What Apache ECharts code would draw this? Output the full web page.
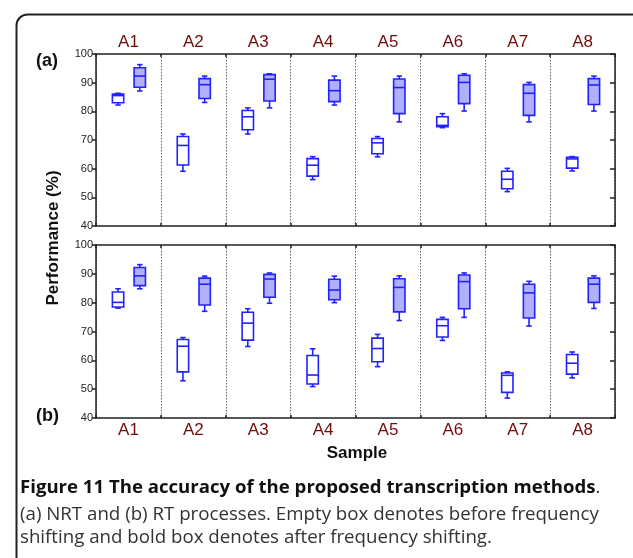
<!DOCTYPE html>
<html>
<head>
<meta charset="utf-8">
<script src="https://cdn.jsdelivr.net/npm/echarts@6/dist/echarts.min.js"></script>
<style>
  html, body { margin: 0; padding: 0; background: #fff; }
  #chart { width: 633px; height: 558px; }
</style>
</head>
<body>
<div id="chart"></div>
<script>
// Sample groups
const categories = ['A1', 'A2', 'A3', 'A4', 'A5', 'A6', 'A7', 'A8'];

// Each entry: [min, Q1, median, Q3, max] in percent
// (a) NRT process
const nrtBefore = [
  [82.2, 83.0, 85.5, 86.0, 86.3],
  [59.1, 61.3, 68.1, 71.2, 72.1],
  [72.1, 73.6, 78.1, 80.3, 81.2],
  [56.2, 57.4, 61.2, 63.5, 64.2],
  [64.1, 65.2, 69.0, 70.5, 71.2],
  [74.3, 74.6, 75.1, 78.1, 79.2],
  [52.0, 53.0, 56.3, 59.1, 60.1],
  [59.2, 60.2, 63.4, 64.0, 64.2]
];
const nrtAfter = [
  [87.1, 88.4, 92.3, 95.2, 96.3],
  [83.1, 84.5, 89.3, 91.4, 92.3],
  [81.2, 83.6, 91.2, 92.8, 93.1],
  [82.2, 83.4, 87.2, 90.9, 92.3],
  [76.3, 79.2, 88.3, 91.3, 92.3],
  [80.1, 82.7, 90.1, 92.6, 93.1],
  [76.3, 78.6, 86.3, 89.3, 90.1],
  [80.1, 82.4, 89.2, 91.4, 92.3]
];
// (b) RT process
const rtBefore = [
  [78.1, 78.5, 80.1, 83.7, 84.8],
  [52.9, 56.0, 64.9, 67.2, 67.9],
  [64.8, 67.0, 72.9, 76.7, 77.9],
  [50.9, 51.8, 54.9, 61.7, 64.0],
  [57.8, 59.5, 64.1, 67.7, 69.0],
  [66.9, 68.1, 72.0, 74.2, 74.9],
  [46.9, 48.9, 54.8, 55.6, 56.0],
  [53.9, 55.2, 59.0, 62.0, 62.9]
];
const rtAfter = [
  [84.8, 85.9, 89.3, 92.2, 93.2],
  [77.0, 79.2, 86.4, 88.5, 89.2],
  [79.8, 81.9, 88.2, 89.8, 90.3],
  [80.0, 81.0, 84.4, 88.1, 89.2],
  [73.8, 76.8, 85.3, 88.3, 89.3],
  [74.9, 77.9, 87.3, 89.6, 90.3],
  [71.9, 74.7, 83.4, 86.4, 87.4],
  [78.0, 80.1, 86.4, 88.5, 89.3]
];

const yTicks = { min: 40, max: 100, interval: 10 };

const BLUE = '#2222ff';
const FILL = '#b0b0ff';
const AXIS = '#222';
const LABEL_RED = '#700c0c';

// Turn [min,q1,med,q3,max] rows into [categoryIndex, ...stats]
function rows(stats) {
  return stats.map((s, i) => [i].concat(s));
}

// Box-and-whisker glyph placed at a fraction of the category band
function makeBox(pos, fill) {
  return function (params, api) {
    const i = api.value(0);
    const band = api.size([1, 0])[0];
    const base = api.coord([i, api.value(1)]);
    const cx = base[0] + (pos - 0.5) * band;
    const y = v => api.coord([i, v])[1];
    const yMin = y(api.value(1)), yQ1 = y(api.value(2)), yMed = y(api.value(3));
    const yQ3 = y(api.value(4)), yMax = y(api.value(5));
    const w = band * 0.175;
    const cap = band * 0.085;
    const line = { stroke: BLUE, lineWidth: 1.6 };
    return {
      type: 'group',
      children: [
        { type: 'line', shape: { x1: cx, y1: yMax, x2: cx, y2: yQ3 }, style: line },
        { type: 'line', shape: { x1: cx, y1: yQ1, x2: cx, y2: yMin }, style: line },
        { type: 'line', shape: { x1: cx - cap / 2, y1: yMax, x2: cx + cap / 2, y2: yMax }, style: line },
        { type: 'line', shape: { x1: cx - cap / 2, y1: yMin, x2: cx + cap / 2, y2: yMin }, style: line },
        { type: 'rect', shape: { x: cx - w / 2, y: yQ3, width: w, height: yQ1 - yQ3 },
          style: { fill: fill, stroke: BLUE, lineWidth: 1.6 } },
        { type: 'line', shape: { x1: cx - w / 2, y1: yMed, x2: cx + w / 2, y2: yMed }, style: line }
      ]
    };
  };
}

const gridLeft = 96, gridWidth = 519;
const grids = [
  { left: gridLeft, top: 54, width: gridWidth, height: 172 },
  { left: gridLeft, top: 245, width: gridWidth, height: 173 }
];

function xAxisPair(gridIndex, labelPos) {
  const common = {
    type: 'category', data: categories, gridIndex: gridIndex, boundaryGap: true,
    axisLine: { show: true, lineStyle: { color: AXIS, width: 1.5 } },
    axisTick: { show: true, inside: true, length: 3, lineStyle: { color: AXIS, width: 1.5 } }
  };
  return [
    Object.assign({}, common, {
      position: 'top',
      axisLabel: labelPos === 'top'
        ? { show: true, color: LABEL_RED, fontSize: 17, fontFamily: 'Liberation Sans, Arial', margin: 3 }
        : { show: false },
      splitLine: { show: true, lineStyle: { color: '#666', width: 1, type: [1.5, 1.5] } }
    }),
    Object.assign({}, common, {
      position: 'bottom',
      axisLabel: labelPos === 'bottom'
        ? { show: true, color: LABEL_RED, fontSize: 17, fontFamily: 'Liberation Sans, Arial', margin: 4 }
        : { show: false },
      splitLine: { show: false }
    })
  ];
}

function yAxisPair(gridIndex) {
  const common = Object.assign({ type: 'value', gridIndex: gridIndex, splitLine: { show: false } }, yTicks);
  return [
    Object.assign({}, common, {
      position: 'left',
      axisLine: { show: true, lineStyle: { color: AXIS, width: 1.5 } },
      axisTick: { show: true, inside: false, length: 4, lineStyle: { color: AXIS, width: 1.5 } },
      axisLabel: { color: '#222', fontSize: 11, fontFamily: 'Liberation Sans, Arial', margin: 3 }
    }),
    Object.assign({}, common, {
      position: 'right',
      axisLine: { show: true, lineStyle: { color: AXIS, width: 1.5 } },
      axisTick: { show: true, inside: true, length: 5, lineStyle: { color: AXIS, width: 1.5 } },
      axisLabel: { show: false }
    })
  ];
}

const xAxes = xAxisPair(0, 'top').concat(xAxisPair(1, 'bottom'));
const yAxes = yAxisPair(0).concat(yAxisPair(1));

function boxSeries(stats, xIdx, yIdx, pos, fill) {
  return {
    type: 'custom', xAxisIndex: xIdx, yAxisIndex: yIdx,
    renderItem: makeBox(pos, fill), data: rows(stats),
    encode: { x: 0, y: [1, 2, 3, 4, 5] }, silent: true, clip: false
  };
}

const captionFont = '"Open Sans", "DejaVu Sans", sans-serif';

const option = {
  animation: false,
  backgroundColor: '#fff',
  grid: grids,
  xAxis: xAxes,
  yAxis: yAxes,
  series: [
    boxSeries(nrtBefore, 0, 0, 0.34, '#fff'),
    boxSeries(nrtAfter, 0, 0, 0.675, FILL),
    boxSeries(rtBefore, 2, 2, 0.34, '#fff'),
    boxSeries(rtAfter, 2, 2, 0.675, FILL)
  ],
  graphic: [
    { type: 'rect', left: 14, top: 12, z: -1,
      shape: { width: 640, height: 600, r: 11 },
      style: { fill: 'none', stroke: '#222', lineWidth: 2 } },
    { type: 'text', left: 36, top: 52,
      style: { text: '(a)', font: 'bold 18px "Liberation Sans", Arial', fill: '#111' } },
    { type: 'text', left: 36, top: 407,
      style: { text: '(b)', font: 'bold 18px "Liberation Sans", Arial', fill: '#111' } },
    { type: 'text', x: 53, y: 238, rotation: Math.PI / 2,
      style: { text: 'Performance (%)', font: 'bold 17px "Liberation Sans", Arial', fill: '#111',
               align: 'center', verticalAlign: 'middle' } },
    { type: 'text', x: 357, y: 453,
      style: { text: 'Sample', font: 'bold 17px "Liberation Sans", Arial', fill: '#111',
               align: 'center', verticalAlign: 'middle' } },
    { type: 'text', left: 20, top: 478,
      style: {
        text: '{b|Figure 11 The accuracy of the proposed transcription methods}{n|.}',
        rich: {
          b: { fontFamily: captionFont, fontSize: 18.6, fontWeight: 'bold', fill: '#111' },
          n: { fontFamily: captionFont, fontSize: 18.6, fill: '#333' }
        }
      } },
    { type: 'text', left: 20, top: 505,
      style: { text: '(a) NRT and (b) RT processes. Empty box denotes before frequency',
               font: '18.7px ' + captionFont, fill: '#333' } },
    { type: 'text', left: 20, top: 528,
      style: { text: 'shifting and bold box denotes after frequency shifting.',
               font: '18.7px ' + captionFont, fill: '#333' } }
  ]
};

const chart = echarts.init(document.getElementById('chart'), null, { renderer: 'canvas' });
chart.setOption(option);
</script>
</body>
</html>
